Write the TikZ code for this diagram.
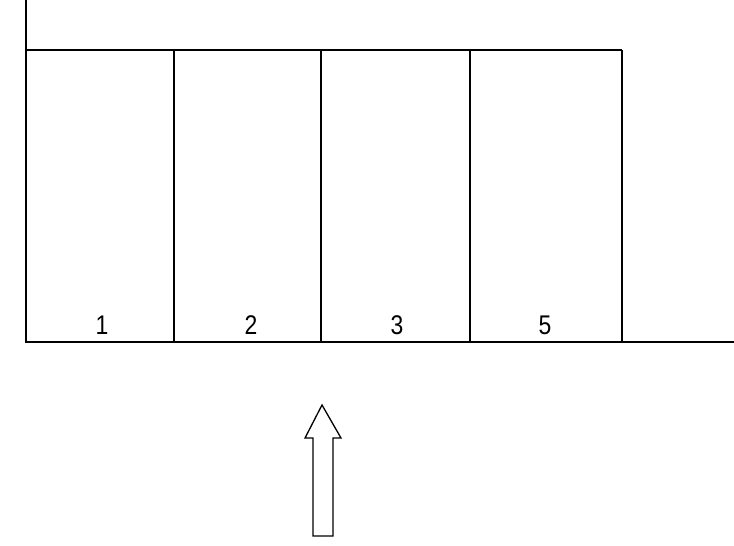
\documentclass[tikz,border=0pt]{standalone}
\usepackage{fontspec}
\setmainfont{Liberation Sans}
\usetikzlibrary{positioning}

\tikzset{
	wall/.style={line width=1.6pt},
	num/.style={font=\fontsize{27}{27}\selectfont, anchor=base, inner sep=0pt, xscale=0.85}
}

\begin{document}
\begin{tikzpicture}[x=1pt,y=-1pt]
	\useasboundingbox (0,0) rectangle (734,546);

	\coordinate (wtop) at (26,0);
	\coordinate (ltop) at (26,50);
	\coordinate (rtop) at (622,50);
	\coordinate (lbot) at (26,342);
	\coordinate (rend) at (734,342);

	\draw[wall] (wtop) -- (lbot) -- (rend);
	\draw[wall] (ltop) -- (rtop);
	\foreach \x in {174,321,470,622}
		\draw[wall] (\x,50) -- (\x,342);

	\foreach \x/\t in {102/1,251/2,397/3,545/5}
		\node[num] (n\t) at (\x,334) {\t};

	% entrance
	\draw[wall, line width=1.3pt, line join=miter]
		(313,536) -- (313,438) -- (305,438) -- (322,405)
		-- (341,438) -- (333,438) -- (333,536) -- cycle;
\end{tikzpicture}
\end{document}
